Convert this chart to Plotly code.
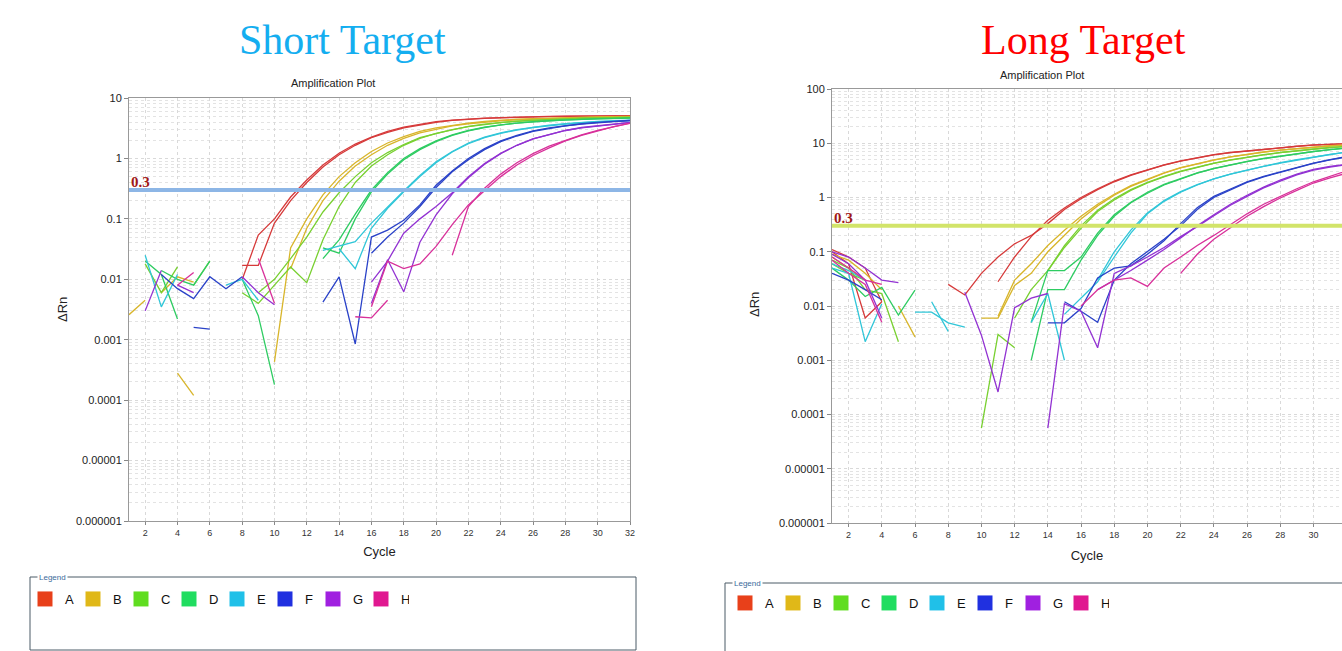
import math
import plotly.graph_objects as go

N = None
cycles = list(range(1, 33))
series_names = ["A", "B", "C", "D", "E", "F", "G", "H"]
line_colors = ["#d63a3a", "#d8b52a", "#78d030", "#2ecc62", "#30c6d8", "#2a42c8", "#9232d2", "#d8309a"]
legend_colors = ["#e8401a", "#e0b818", "#60dd20", "#20dd60", "#20c0e8", "#2030e0", "#a020e0", "#e01890"]
threshold = 0.3

# ---- Short target (cycles 1..32) ----
short_A1 = [N,N,N,N,N,N,N,0.0098,0.054,0.1,0.23,0.44,0.78,1.22,1.73,2.26,2.8,3.3,3.7,4.05,4.3,4.5,4.65,4.75,4.85,4.9,4.95,5.0,5.0,5.05,5.05,5.1]
short_A2 = [N,N,N,N,N,N,N,0.017,0.017,0.085,0.2,0.4,0.72,1.15,1.65,2.2,2.7,3.2,3.6,3.95,4.25,4.45,4.6,4.7,4.8,4.85,4.9,4.95,5.0,5.0,5.05,5.05]
short_B1 = [0.0026,0.0045,N,0.00028,0.00012,N,N,N,N,0.00043,0.033,0.1,0.25,0.5,0.85,1.3,1.8,2.3,2.8,3.2,3.55,3.85,4.1,4.3,4.45,4.55,4.65,4.75,4.8,4.85,4.9,4.95]
short_B2 = [N,N,0.006,0.011,0.009,N,N,N,N,N,0.015,0.07,0.2,0.42,0.75,1.15,1.65,2.15,2.65,3.05,3.45,3.75,4.0,4.2,4.35,4.5,4.6,4.7,4.75,4.8,4.85,4.9]
short_C1 = [N,0.018,0.006,0.016,N,N,N,0.006,0.004,0.008,0.016,0.0088,0.045,0.16,0.4,0.75,1.15,1.65,2.15,2.6,3.0,3.4,3.7,3.95,4.15,4.3,4.45,4.55,4.65,4.7,4.75,4.8]
short_C2 = [N,N,N,N,0.008,0.02,N,N,0.006,0.01,0.022,0.05,0.13,0.27,0.5,0.85,1.25,1.7,2.2,2.6,3.0,3.35,3.65,3.9,4.1,4.25,4.4,4.5,4.6,4.65,4.7,4.75]
short_D1 = [N,0.02,0.012,0.0022,N,N,N,0.01,0.0025,0.00018,N,N,0.033,0.027,0.1,0.28,0.55,0.95,1.4,1.9,2.4,2.85,3.25,3.6,3.85,4.05,4.2,4.35,4.45,4.55,4.6,4.65]
short_D2 = [N,N,0.014,0.01,0.008,0.02,N,N,N,N,N,N,0.022,0.045,0.12,0.3,0.58,1.0,1.45,1.95,2.45,2.9,3.3,3.6,3.85,4.05,4.2,4.35,4.45,4.55,4.6,4.7]
short_E1 = [N,0.025,0.0035,0.012,N,N,0.008,0.01,0.0045,N,N,N,0.03,0.035,0.042,0.085,0.16,0.29,0.52,0.88,1.3,1.8,2.25,2.65,3.0,3.3,3.55,3.75,3.95,4.1,4.2,4.3]
short_E2 = [N,N,N,N,N,N,N,N,N,N,N,N,N,0.032,0.015,0.07,0.15,0.28,0.5,0.85,1.28,1.75,2.2,2.6,2.95,3.25,3.5,3.7,3.9,4.05,4.15,4.25]
short_F1 = [N,N,0.012,0.007,0.0048,0.011,0.007,0.011,N,N,N,N,0.0042,0.011,0.00085,0.05,0.065,0.095,0.17,0.36,0.62,1.0,1.45,1.95,2.4,2.85,3.2,3.5,3.75,3.95,4.1,4.25]
short_F2 = [N,N,N,N,0.0016,0.0015,N,N,N,N,N,N,N,N,N,0.027,0.05,0.085,0.16,0.33,0.6,0.95,1.4,1.9,2.35,2.8,3.15,3.45,3.7,3.9,4.05,4.2]
short_G1 = [N,N,N,0.008,0.006,N,N,0.011,0.006,0.0038,N,N,N,N,N,0.004,0.021,0.0062,0.041,0.116,0.26,0.48,0.8,1.2,1.65,2.1,2.5,2.9,3.25,3.5,3.75,3.95]
short_G2 = [N,0.003,0.014,N,N,N,N,N,0.02,N,N,N,N,N,N,0.009,0.02,0.058,0.1,0.16,0.27,0.5,0.82,1.22,1.65,2.1,2.5,2.9,3.2,3.45,3.7,3.9]
short_H1 = [N,N,N,0.008,0.013,N,N,N,0.022,0.004,N,N,N,N,N,0.0035,0.02,0.015,0.018,0.035,0.08,0.17,0.29,0.5,0.78,1.12,1.5,1.95,2.4,2.85,3.35,3.8]
short_H2 = [N,N,N,N,N,N,N,N,N,N,N,N,N,N,0.0024,0.0023,0.0045,N,N,N,0.025,0.16,0.32,0.55,0.85,1.2,1.6,2.0,2.45,2.9,3.35,3.85]

# ---- Long target (cycles 1..32) ----
long_A1 = [0.11,0.08,0.05,0.012,N,N,N,0.025,0.016,0.04,0.08,0.14,0.2,0.33,0.6,0.95,1.4,1.95,2.55,3.2,3.95,4.7,5.4,6.1,6.7,7.2,7.7,8.2,8.75,9.25,9.55,9.8]
long_A2 = [0.1,0.06,0.006,0.012,N,N,N,N,N,N,0.028,0.08,0.19,0.38,0.64,1.0,1.45,2.0,2.6,3.25,4.0,4.75,5.45,6.15,6.75,7.25,7.75,8.25,8.8,9.3,9.6,9.85]
long_B1 = [0.09,0.07,0.04,0.02,N,N,N,N,N,0.006,0.006,0.024,0.04,0.1,0.2,0.4,0.7,1.1,1.6,2.1,2.8,3.5,4.2,4.9,5.6,6.3,6.9,7.5,8.0,8.5,9.0,9.3]
long_B2 = [0.08,0.05,0.03,N,0.01,0.0027,N,N,N,N,0.0065,0.03,0.06,0.13,0.25,0.45,0.75,1.15,1.65,2.2,2.85,3.55,4.25,4.95,5.6,6.25,6.85,7.45,7.95,8.45,8.9,9.2]
long_C1 = [0.07,0.05,0.02,0.017,0.0022,N,N,N,N,0.000056,0.003,0.0017,N,0.045,0.12,0.27,0.55,0.9,1.35,1.85,2.4,3.0,3.6,4.25,4.9,5.5,6.1,6.7,7.3,7.8,8.3,8.7]
long_C2 = [0.06,0.04,0.03,N,N,N,N,N,N,N,N,0.006,0.02,0.045,0.13,0.3,0.58,0.95,1.4,1.9,2.45,3.05,3.65,4.3,4.95,5.55,6.15,6.75,7.3,7.85,8.35,8.75]
long_D1 = [0.05,0.03,0.015,0.022,0.0068,0.0197,N,N,N,N,N,N,0.001,0.02,0.02,0.07,0.2,0.45,0.8,1.2,1.7,2.2,2.8,3.4,4.0,4.6,5.2,5.8,6.4,7.0,7.6,8.1]
long_D2 = [N,N,N,N,N,N,N,N,N,N,N,N,0.005,0.045,0.045,0.08,0.22,0.48,0.82,1.25,1.75,2.25,2.85,3.45,4.05,4.65,5.25,5.85,6.45,7.05,7.6,8.2]
long_E1 = [0.05,0.04,0.0022,0.011,N,0.0077,0.0077,0.0049,0.0041,N,N,N,0.005,0.017,0.001,N,0.03,0.1,0.25,0.52,0.88,1.28,1.72,2.2,2.7,3.2,3.75,4.3,4.9,5.5,6.2,6.8]
long_E2 = [0.06,0.045,0.03,N,N,N,0.012,0.0034,N,N,N,N,N,N,0.007,0.014,0.028,0.08,0.22,0.5,0.85,1.25,1.7,2.2,2.7,3.2,3.8,4.4,5.0,5.6,6.3,6.9]
long_F1 = [0.04,0.03,0.02,0.013,N,N,N,N,N,N,N,N,N,0.0049,0.0049,0.009,0.033,0.05,0.055,0.09,0.16,0.33,0.65,1.05,1.45,1.95,2.45,2.95,3.6,4.3,5.0,5.7]
long_F2 = [N,N,N,N,N,N,N,N,N,N,N,N,N,N,0.012,0.008,0.005,0.03,0.06,0.1,0.17,0.3,0.6,1.0,1.4,1.9,2.4,2.9,3.55,4.25,4.95,5.6]
long_G1 = [0.1,0.08,0.05,0.03,0.027,N,N,N,0.018,0.0029,0.00026,0.0093,0.014,0.017,N,N,0.02,0.03,0.045,0.07,0.11,0.18,0.3,0.48,0.75,1.1,1.55,2.1,2.7,3.3,3.75,4.1]
long_G2 = [0.09,0.06,0.03,0.006,N,N,N,N,N,N,N,N,N,0.000056,0.011,0.008,0.0017,0.04,0.055,0.08,0.12,0.19,0.29,0.46,0.72,1.05,1.5,2.0,2.6,3.2,3.65,4.0]
long_H1 = [0.08,0.05,0.03,0.025,N,N,N,N,N,N,N,N,N,N,N,N,N,N,N,N,N,0.04,0.09,0.17,0.28,0.45,0.68,0.98,1.35,1.85,2.3,2.8]
long_H2 = [0.07,0.04,0.025,0.005,N,N,N,N,N,N,N,N,N,N,N,0.01,0.02,0.03,0.033,0.023,0.05,0.08,0.13,0.2,0.32,0.5,0.75,1.05,1.45,1.95,2.5,3.1]

short_reps = [[short_A1, short_A2], [short_B1, short_B2], [short_C1, short_C2], [short_D1, short_D2],
              [short_E1, short_E2], [short_F1, short_F2], [short_G1, short_G2], [short_H1, short_H2]]
long_reps = [[long_A1, long_A2], [long_B1, long_B2], [long_C1, long_C2], [long_D1, long_D2],
             [long_E1, long_E2], [long_F1, long_F2], [long_G1, long_G2], [long_H1, long_H2]]

x_ticks = list(range(2, 33, 2))
y_short_ticks = [1e-6, 1e-5, 1e-4, 1e-3, 1e-2, 1e-1, 1, 10]
y_short_text = ["0.000001", "0.00001", "0.0001", "0.001", "0.01", "0.1", "1", "10"]
y_long_ticks = y_short_ticks + [100]
y_long_text = y_short_text + ["100"]

W, H = 1342, 651
def px(x): return x / W
def py(y): return 1 - y / H

fig = go.Figure()

for reps, xa, ya in [(short_reps, "x", "y"), (long_reps, "x2", "y2")]:
    for name, col, rr in zip(series_names, line_colors, reps):
        for r in rr:
            fig.add_trace(go.Scatter(x=cycles, y=r, mode="lines", xaxis=xa, yaxis=ya,
                                     line=dict(color=col, width=1.3), showlegend=False,
                                     name=name, hoverinfo="skip"))

# threshold lines
fig.add_trace(go.Scatter(x=[1, 32], y=[threshold, threshold], mode="lines", xaxis="x", yaxis="y",
                         line=dict(color="#8db6e6", width=4), showlegend=False, hoverinfo="skip"))
fig.add_trace(go.Scatter(x=[1, 32], y=[threshold, threshold], mode="lines", xaxis="x2", yaxis="y2",
                         line=dict(color="#d2e46a", width=4), showlegend=False, hoverinfo="skip"))

# legend entries
for lg in ["legend", "legend2"]:
    for name, col in zip(series_names, legend_colors):
        fig.add_trace(go.Scatter(x=[None], y=[None], mode="markers", name=name, legend=lg,
                                 marker=dict(symbol="square", size=15, color=col, line=dict(width=0)),
                                 xaxis="x", yaxis="y"))

grid = "#d9d9d9"
minor_grid = "#e3e3e3"
tickfont = dict(family="Liberation Sans, Arial", size=11, color="#222")
xtickfont = dict(family="Liberation Sans, Arial", size=9, color="#333")

def xaxis(domain, rng, standoff):
    return dict(domain=domain, range=rng, tickvals=x_ticks, tickfont=xtickfont, ticks="outside",
                ticklen=3, tickcolor="#888", showline=True, linecolor="#999", mirror=True,
                showgrid=True, gridcolor=grid, griddash="dot", zeroline=False, automargin=False,
                title=dict(text="Cycle", font=dict(family="Liberation Sans, Arial", size=13, color="#222"),
                           standoff=standoff))

def yaxis(domain, rng, tv, tt, anchor):
    return dict(type="log", domain=domain, range=rng, tickvals=tv, ticktext=tt, tickfont=tickfont,
                ticks="outside", ticklen=4, tickcolor="#888", showline=True, linecolor="#999",
                mirror=True, showgrid=True, gridcolor=grid, griddash="dot", zeroline=False,
                anchor=anchor, automargin=False,
                minor=dict(dtick="D1", showgrid=True, gridcolor=minor_grid, griddash="dot", ticks=""))

fig.update_layout(
    width=W, height=H, margin=dict(l=0, r=0, t=0, b=0, autoexpand=False),
    paper_bgcolor="white", plot_bgcolor="white",
    xaxis=dict(**xaxis([px(129), px(630)], [1, 32], 10), anchor="y"),
    yaxis=yaxis([py(521), py(98)], [-6, 1], y_short_ticks, y_short_text, "x"),
    xaxis2=dict(**xaxis([px(832), 1.0], [1, 31.72], 12), anchor="y2"),
    yaxis2=yaxis([py(523), py(89)], [-6, 2], y_long_ticks, y_long_text, "x2"),
    legend=dict(orientation="h", x=px(25), y=py(584), xanchor="left", yanchor="top",
                entrywidth=3, entrywidthmode="pixels", itemwidth=30, bgcolor="rgba(0,0,0,0)",
                font=dict(family="Liberation Sans, Arial", size=13, color="#111")),
    legend2=dict(orientation="h", x=px(725), y=py(588), xanchor="left", yanchor="top",
                 entrywidth=3, entrywidthmode="pixels", itemwidth=30, bgcolor="rgba(0,0,0,0)",
                 font=dict(family="Liberation Sans, Arial", size=13, color="#111")),
    showlegend=True,
)

# y axis titles
for x, y in [(62, 310), (755, 305)]:
    fig.add_annotation(x=px(x), y=py(y), xref="paper", yref="paper", text="ΔRn", textangle=-90,
                       xanchor="center", yanchor="middle",
                       showarrow=False, font=dict(family="Liberation Sans, Arial", size=13, color="#222"))

# big titles
fig.add_annotation(x=px(342), y=py(40), xref="paper", yref="paper", text="Short Target", showarrow=False,
                   xanchor="center", yanchor="middle",
                   font=dict(family="Liberation Serif, Times New Roman", size=42, color="#14aef0"))
fig.add_annotation(x=px(1083), y=py(40), xref="paper", yref="paper", text="Long Target", showarrow=False,
                   xanchor="center", yanchor="middle",
                   font=dict(family="Liberation Serif, Times New Roman", size=42, color="#ff0000"))
# plot titles
fig.add_annotation(x=px(333), y=py(83), xref="paper", yref="paper", text="Amplification Plot", showarrow=False,
                   xanchor="center", yanchor="middle",
                   font=dict(family="Liberation Sans, Arial", size=11, color="#222"))
fig.add_annotation(x=px(1042), y=py(75), xref="paper", yref="paper", text="Amplification Plot", showarrow=False,
                   xanchor="center", yanchor="middle",
                   font=dict(family="Liberation Sans, Arial", size=11, color="#222"))
# threshold labels
fig.add_annotation(x=1, y=math.log10(threshold), xref="x", yref="y", text="<b>0.3</b>", showarrow=False,
                   xanchor="left", yanchor="bottom", yshift=-2,
                   font=dict(family="Liberation Serif, Times New Roman", size=15, color="#a01818"))
fig.add_annotation(x=1, y=math.log10(threshold), xref="x2", yref="y2", text="<b>0.3</b>", showarrow=False,
                   xanchor="left", yanchor="bottom", yshift=-2,
                   font=dict(family="Liberation Serif, Times New Roman", size=15, color="#a01818"))

# legend boxes
fig.add_shape(type="rect", xref="paper", yref="paper", x0=px(30), x1=px(636), y0=py(650), y1=py(577),
              line=dict(color="#4a5a66", width=1))
fig.add_shape(type="rect", xref="paper", yref="paper", x0=px(725), x1=px(1360), y0=py(670), y1=py(583),
              line=dict(color="#4a5a66", width=1))
for x, y in [(37, 577), (732, 583)]:
    fig.add_annotation(x=px(x), y=py(y), xref="paper", yref="paper", text="Legend", showarrow=False,
                       xanchor="left", yanchor="middle", bgcolor="white", borderpad=1,
                       font=dict(family="Liberation Sans, Arial", size=8, color="#3a6a9a"))

fig.write_html("out.html", config={"displayModeBar": False},
               post_script="document.body.style.margin='0';document.body.style.overflow='hidden';")
